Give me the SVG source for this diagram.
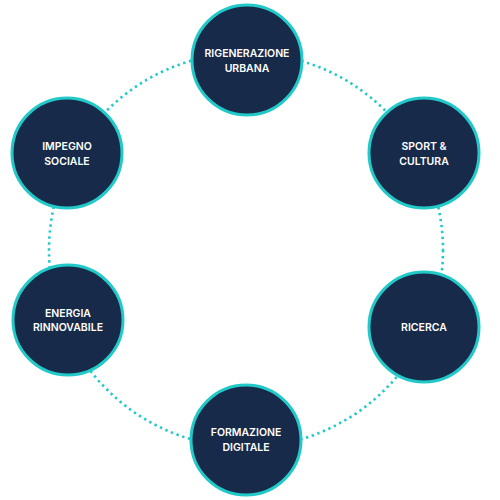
<svg xmlns="http://www.w3.org/2000/svg" width="500" height="500" viewBox="0 0 500 500">
<style>
.ring{fill:none;stroke:#22c9c9;stroke-width:2.6;stroke-dasharray:2.4 3.6}
.node{fill:#172a4a;stroke:#22c9c9;stroke-width:3}
.lbl{font-family:Inter,"Liberation Sans",sans-serif;font-size:10.5px;font-weight:600;fill:#ffffff;text-anchor:middle}
</style>
<rect width="500" height="500" fill="#ffffff"/>
<g id="connectors">
<circle class="ring" cx="246" cy="250" r="197"/>
</g>
<g id="node-rigenerazione">
<circle class="node" cx="247" cy="60" r="55"/>
<text class="lbl" x="247" y="57">RIGENERAZIONE</text>
<text class="lbl" x="247" y="72">URBANA</text>
</g>
<g id="node-sport">
<circle class="node" cx="424" cy="153" r="55"/>
<text class="lbl" x="424" y="150">SPORT &amp;</text>
<text class="lbl" x="424" y="165">CULTURA</text>
</g>
<g id="node-ricerca">
<circle class="node" cx="424" cy="327" r="55"/>
<text class="lbl" x="424" y="331">RICERCA</text>
</g>
<g id="node-formazione">
<circle class="node" cx="246" cy="440" r="55"/>
<text class="lbl" x="246" y="436">FORMAZIONE</text>
<text class="lbl" x="246" y="451">DIGITALE</text>
</g>
<g id="node-energia">
<circle class="node" cx="68" cy="320" r="55"/>
<text class="lbl" x="68" y="317">ENERGIA</text>
<text class="lbl" x="68" y="331">RINNOVABILE</text>
</g>
<g id="node-impegno">
<circle class="node" cx="67" cy="153" r="55"/>
<text class="lbl" x="67" y="150">IMPEGNO</text>
<text class="lbl" x="67" y="165">SOCIALE</text>
</g>
</svg>
